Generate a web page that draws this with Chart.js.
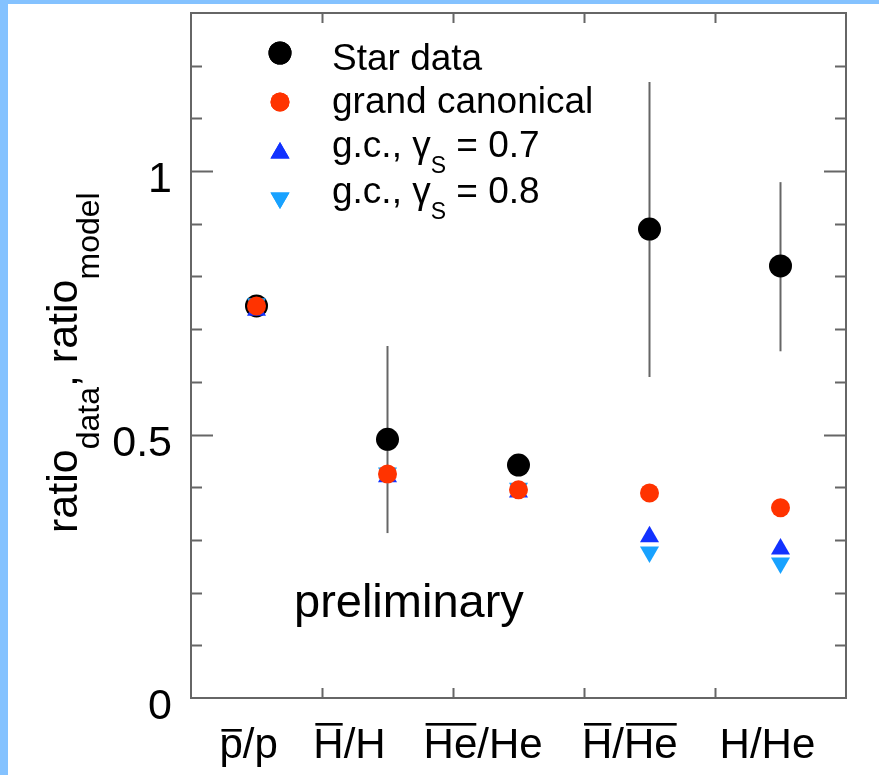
<!DOCTYPE html>
<html>
<head>
<meta charset="utf-8">
<script src="https://cdn.jsdelivr.net/npm/chart.js@4.4.0/dist/chart.umd.min.js"></script>
<style>
  body { margin: 0; background: #fff; }
  #wrap { position: relative; width: 879px; height: 775px; overflow: hidden; }
  .band { position: absolute; background: #84c2ff; }
</style>
</head>
<body>
<div id="wrap">
  <canvas id="ratios" width="879" height="775"></canvas>
  <div class="band" style="left:0;top:0;width:8px;height:775px"></div>
  <div class="band" style="left:0;top:0;width:879px;height:4px"></div>
</div>
<script>
// particle ratios, braces mark an overlined (anti-particle) part
const categories = ["{p}/p", "{H}/H", "{He}/He", "{H}/{He}", "H/He"];
const labelCentres = [0.94, 1.71, 2.73, 3.85, 4.90]; // in category units

const starData = [0.744, 0.491, 0.442, 0.890, 0.820];
const starErrLow = [null, 0.313, null, 0.609, 0.658];
const starErrHigh = [null, 0.668, null, 1.169, 0.979];
const grandCanonical = [0.744, 0.425, 0.395, 0.389, 0.361];
const gammaS07 = [0.736, 0.420, 0.391, 0.306, 0.283];
const gammaS08 = [0.748, 0.427, 0.398, 0.277, 0.256];

const yTickLabels = [0, 0.5, 1];
const yMinorStep = 0.1;

const FONT = '"Liberation Sans", Arial, Helvetica, sans-serif';
const AXIS = "#666";
const RED = "#ff3300";
const BLUE = "#1232ff";
const CYAN = "#18a2ff";

const pts = (vals) => vals.map((v, i) => ({ x: i + 1, y: v }));

// text with {..} parts overlined, centred on x
function drawMarked(ctx, text, x, y) {
  const parts = text.split(/(\{[^}]*\})/).filter(Boolean).map((p) =>
    p[0] === "{" ? { t: p.slice(1, -1), over: true } : { t: p, over: false }
  );
  const total = parts.reduce((s, p) => s + ctx.measureText(p.t).width, 0);
  let cx = x - total / 2;
  parts.forEach((p) => {
    const m = ctx.measureText(p.t);
    ctx.fillText(p.t, cx, y);
    if (p.over) {
      const top = y - m.actualBoundingBoxAscent - 6;
      ctx.fillRect(cx + 2, top, m.width - 3, 2.6);
    }
    cx += m.width;
  });
}

// runs of [text, size, baseline shift]
function drawRuns(ctx, runs, x, y) {
  let cx = x;
  runs.forEach(([t, size, dy]) => {
    ctx.font = size + "px " + FONT;
    ctx.fillText(t, cx, y + dy);
    cx += ctx.measureText(t).width;
  });
}

const errorBars = {
  id: "errorBars",
  beforeDatasetsDraw(chart) {
    const { ctx, scales: { x, y } } = chart;
    ctx.save();
    ctx.strokeStyle = AXIS;
    ctx.lineWidth = 2;
    starData.forEach((v, i) => {
      if (starErrLow[i] == null) return;
      const px = x.getPixelForValue(i + 1);
      ctx.beginPath();
      ctx.moveTo(px, y.getPixelForValue(starErrLow[i]));
      ctx.lineTo(px, y.getPixelForValue(starErrHigh[i]));
      ctx.stroke();
    });
    ctx.restore();
  }
};

const frame = {
  id: "frame",
  afterDraw(chart) {
    const { ctx, chartArea: a, scales: { x, y } } = chart;
    ctx.save();
    ctx.strokeStyle = AXIS;
    ctx.lineWidth = 2;
    ctx.strokeRect(a.left, a.top, a.right - a.left, a.bottom - a.top);

    // y ticks, mirrored on both sides
    ctx.beginPath();
    for (let v = yMinorStep; v < y.max - 1e-6; v += yMinorStep) {
      const major = yTickLabels.some((t) => Math.abs(t - v) < 1e-6);
      const len = major ? 22 : 11;
      const py = Math.round(y.getPixelForValue(v)) + 0.5;
      ctx.moveTo(a.left, py); ctx.lineTo(a.left + len, py);
      ctx.moveTo(a.right, py); ctx.lineTo(a.right - len, py);
    }
    // x ticks on the category boundaries, top and bottom
    for (let i = 1; i < categories.length; i++) {
      const px = Math.round(x.getPixelForValue(i + 0.5)) + 0.5;
      ctx.moveTo(px, a.bottom); ctx.lineTo(px, a.bottom - 10);
      ctx.moveTo(px, a.top); ctx.lineTo(px, a.top + 10);
    }
    ctx.stroke();

    ctx.fillStyle = "#000";
    // y tick labels
    ctx.font = "43px " + FONT;
    ctx.textAlign = "right";
    ctx.textBaseline = "alphabetic";
    yTickLabels.forEach((t) => {
      ctx.fillText(String(t), a.left - 19, y.getPixelForValue(t) + 21);
    });

    // category labels
    ctx.textAlign = "left";
    ctx.font = "42px " + FONT;
    categories.forEach((c, i) => drawMarked(ctx, c, x.getPixelForValue(labelCentres[i]), 758));

    // y axis title
    ctx.save();
    ctx.translate(77, 533);
    ctx.rotate(-Math.PI / 2);
    drawRuns(ctx, [["ratio", 43, 0], ["data", 32, 22], [", ", 43, 0], ["ratio", 43, 0], ["model", 32, 22]], 0, 0);
    ctx.restore();

    // legend
    const mx = 280, tx = 332;
    const rows = [
      { style: "circle", r: 11.5, color: "#000", cy: 53, runs: [["Star data", 37, 0]], base: 70 },
      { style: "circle", r: 9.5, color: RED, cy: 102, runs: [["grand canonical", 37, 0]], base: 113 },
      { style: "triangle", rot: 0, r: 11, color: BLUE, cy: 153, runs: [["g.c., \u03b3", 37, 0], ["S", 23, 16], [" = 0.7", 37, 0]], base: 157 },
      { style: "triangle", rot: 180, r: 11, color: CYAN, cy: 198, runs: [["g.c., \u03b3", 37, 0], ["S", 23, 16], [" = 0.8", 37, 0]], base: 203 }
    ];
    rows.forEach((row) => {
      ctx.fillStyle = row.color;
      Chart.helpers.drawPoint(ctx, { pointStyle: row.style, radius: row.r, rotation: row.rot || 0, borderWidth: 0 }, mx, row.cy);
      ctx.fill();
      ctx.fillStyle = "#000";
      drawRuns(ctx, row.runs, tx, row.base);
    });

    ctx.font = "47px " + FONT;
    ctx.fillText("preliminary", 294, 617);
    ctx.restore();
  }
};

new Chart(document.getElementById("ratios"), {
  type: "scatter",
  data: {
    datasets: [
      { label: "Star data", data: pts(starData), pointStyle: "circle", pointRadius: 11.5,
        backgroundColor: "#000", pointBorderWidth: 0, order: 4 },
      { label: "grand canonical", data: pts(grandCanonical), pointStyle: "circle", pointRadius: 9.5,
        backgroundColor: RED, pointBorderWidth: 0, order: 1 },
      { label: "g.c., gamma_S = 0.7", data: pts(gammaS07), pointStyle: "triangle", pointRadius: 11,
        backgroundColor: BLUE, pointBorderWidth: 0, order: 2 },
      { label: "g.c., gamma_S = 0.8", data: pts(gammaS08), pointStyle: "triangle", pointRotation: 180,
        pointRadius: 11, backgroundColor: CYAN, pointBorderWidth: 0, order: 3 }
    ]
  },
  options: {
    responsive: false,
    animation: false,
    events: [],
    layout: { padding: { left: 191, top: 13, right: 33, bottom: 77 } },
    scales: {
      x: { type: "linear", min: 0.5, max: 5.5, display: false },
      y: { type: "linear", min: 0, max: 1.3, display: false }
    },
    plugins: { legend: { display: false }, tooltip: { enabled: false } }
  },
  plugins: [errorBars, frame]
});
</script>
</body>
</html>
